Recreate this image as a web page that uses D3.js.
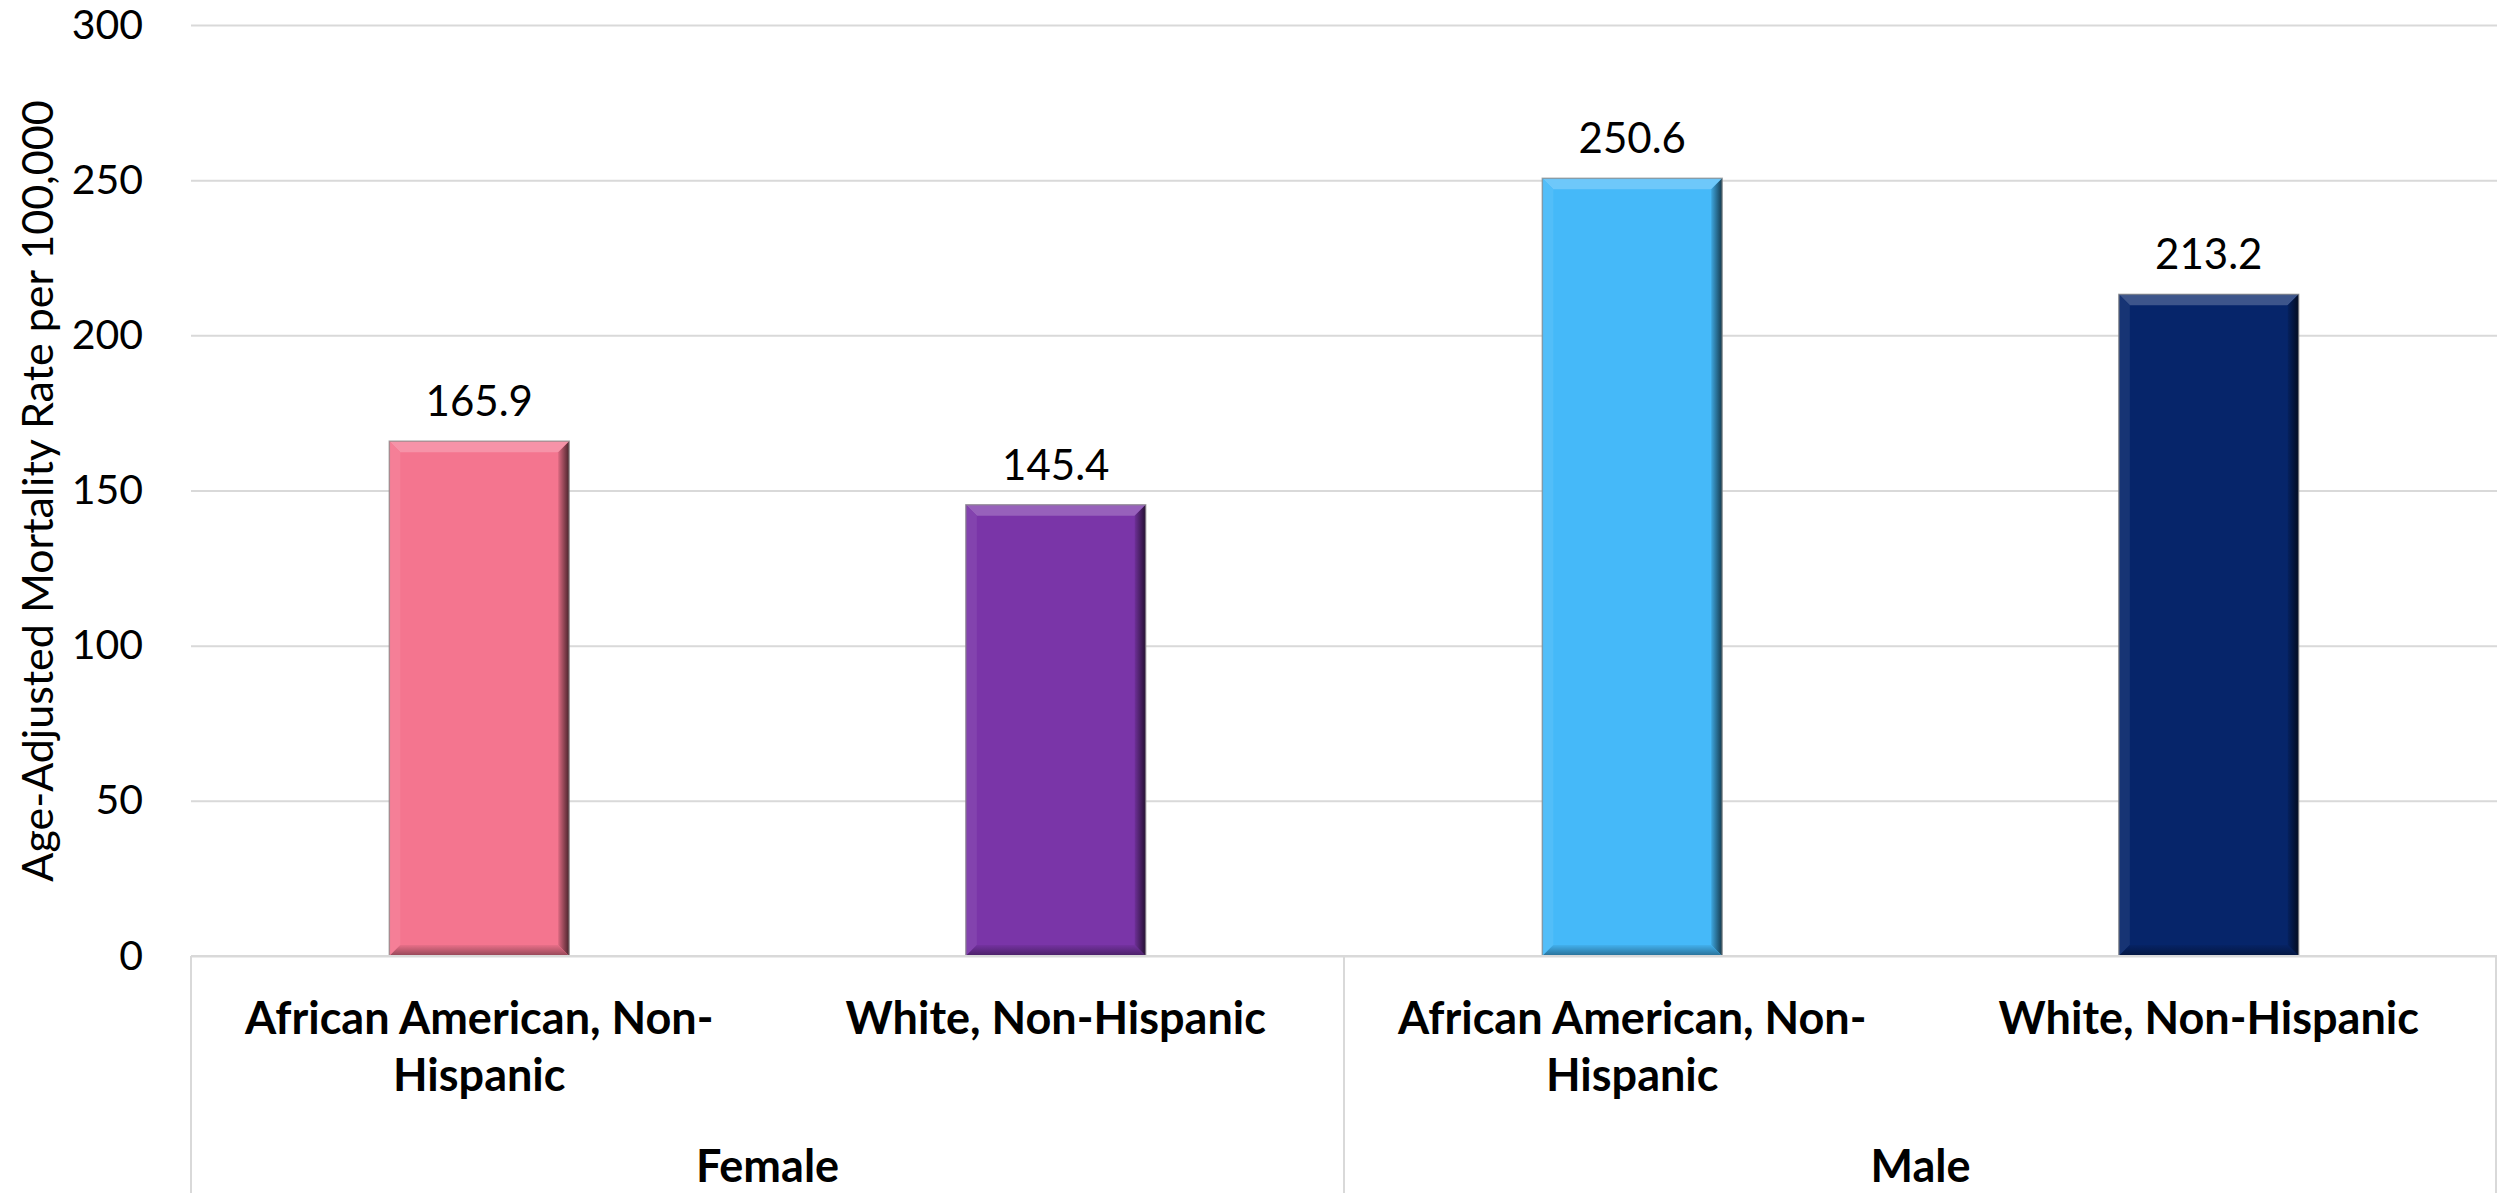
<!DOCTYPE html>
<html><head><meta charset="utf-8">
<script src="https://cdn.jsdelivr.net/npm/d3@7"></script>
<style>
html,body{margin:0;padding:0;background:#fff;}
svg{display:block;}
text{font-family:Lato,"Open Sans",sans-serif;fill:#000;}
</style></head>
<body><svg id="chart" width="2498" height="1193"></svg>
<script>
const groups = ["Female", "Male"];
const categories = ["African American, Non-Hispanic", "White, Non-Hispanic", "African American, Non-Hispanic", "White, Non-Hispanic"];
const categoryGroup = ["Female", "Female", "Male", "Male"];
const values = [165.9, 145.4, 250.6, 213.2];
const valueLabels = ["165.9", "145.4", "250.6", "213.2"];
const barColors = ["#F4758F", "#7A35A8", "#45B9F9", "#06256A"];
const yTicks = [0, 50, 100, 150, 200, 250, 300];
const yTitle = "Age-Adjusted Mortality Rate per 100,000";

const W = 2498, H = 1193;
const m = {left:191, right:1, top:25, bottom:237};
const svg = d3.select("#chart");
const x = d3.scaleBand().domain(d3.range(categories.length)).range([m.left, W - m.right]).paddingInner(0.688).paddingOuter(0.344);
const y = d3.scaleLinear().domain([0, 300]).range([H - m.bottom, m.top]);

// gridlines + tick labels
const yAxis = d3.axisLeft(y).tickValues(yTicks).tickSize(-(W - m.right - m.left)).tickPadding(48).tickFormat(d3.format("d"));
const gy = svg.append("g").attr("transform", `translate(${m.left},0)`).call(yAxis);
gy.select(".domain").remove();
gy.selectAll(".tick line").attr("stroke", "#d9d9d9").attr("stroke-width", 2);
gy.selectAll(".tick text").attr("font-size", 41).attr("font-family", "Lato").attr("fill", "#000");

// category axis separators
const full = x.step();
const sepX = [m.left, (m.left + W - m.right) / 2, W - m.right - 1];
svg.selectAll(".sep").data(sepX).join("line")
  .attr("x1", d => d).attr("x2", d => d).attr("y1", y(0)).attr("y2", H)
  .attr("stroke", "#d9d9d9").attr("stroke-width", 2);

// bars with bevel shading
const defs = svg.append("defs");
const bev = 11;
const bars = svg.selectAll(".bar").data(values).join("g").attr("class", "bar");
bars.each(function(v, i) {
  const g = d3.select(this);
  const x0 = x(i), x1 = x(i) + x.bandwidth(), y0 = y(v), y1 = y(0);
  const c = d3.color(barColors[i]);
  const light = d3.interpolateRgb(barColors[i], "#ffffff");
  const dark = d3.interpolateRgb(barColors[i], "#000000");
  g.append("rect").attr("x", x0).attr("y", y0).attr("width", x1 - x0).attr("height", y1 - y0)
    .attr("fill", barColors[i]);
  // top bevel
  g.append("polygon").attr("points", [[x0,y0],[x1,y0],[x1-bev,y0+bev],[x0+bev,y0+bev]].join(" "))
    .attr("fill", light(0.22));
  // left bevel
  g.append("polygon").attr("points", [[x0,y0],[x0+bev,y0+bev],[x0+bev,y1-bev],[x0,y1]].join(" "))
    .attr("fill", light(0.07));
  // right bevel
  const gid = "rg" + i;
  const lg = defs.append("linearGradient").attr("id", gid).attr("x1", 0).attr("x2", 1).attr("y1", 0).attr("y2", 0);
  lg.append("stop").attr("offset", 0).attr("stop-color", dark(0.1));
  lg.append("stop").attr("offset", 1).attr("stop-color", dark(0.7));
  g.append("polygon").attr("points", [[x1,y0],[x1,y1],[x1-bev,y1-bev],[x1-bev,y0+bev]].join(" "))
    .attr("fill", `url(#${gid})`);
  // bottom bevel
  const bid = "bg" + i;
  const bg = defs.append("linearGradient").attr("id", bid).attr("x1", 0).attr("x2", 0).attr("y1", 0).attr("y2", 1);
  bg.append("stop").attr("offset", 0).attr("stop-color", dark(0.05));
  bg.append("stop").attr("offset", 1).attr("stop-color", dark(0.4));
  g.append("polygon").attr("points", [[x0,y1],[x1,y1],[x1-bev,y1-bev],[x0+bev,y1-bev]].join(" "))
    .attr("fill", `url(#${bid})`);
  g.append("rect").attr("x", x0).attr("y", y0).attr("width", x1 - x0).attr("height", y1 - y0)
    .attr("fill", "none").attr("stroke", "#8a8a8a").attr("stroke-width", 1.5).attr("opacity", 0.7);
});

// value labels
svg.selectAll(".vl").data(values).join("text").attr("class", "vl")
  .attr("x", (d, i) => x(i) + x.bandwidth() / 2).attr("y", d => y(d) - 25)
  .attr("text-anchor", "middle").attr("font-size", 42).text((d, i) => valueLabels[i]);

// baseline
svg.append("line").attr("x1", m.left).attr("x2", W - m.right).attr("y1", y(0)).attr("y2", y(0))
  .attr("stroke", "#d9d9d9").attr("stroke-width", 2);

// category labels with wrapping
const catFont = 45;
const lineH = 57;
categories.forEach((label, i) => {
  const cx = x(i) + x.bandwidth() / 2;
  const t = svg.append("text").attr("x", cx).attr("y", 1034).attr("text-anchor", "middle")
    .attr("font-size", catFont).attr("font-weight", "bold");
  const tokens = label.match(/[^\s-]+-?\s*|\s+/g);
  const maxW = full * 0.86;
  let lines = [], cur = "";
  const probe = svg.append("text").attr("font-size", catFont).attr("font-weight", "bold").attr("visibility", "hidden");
  tokens.forEach(tok => {
    const trial = cur + tok;
    probe.text(trial.trim());
    if (probe.node().getComputedTextLength() > maxW && cur) { lines.push(cur.trim()); cur = tok; }
    else cur = trial;
  });
  lines.push(cur.trim());
  probe.remove();
  lines.forEach((ln, k) => t.append("tspan").attr("x", cx).attr("y", 1034 + k * lineH).text(ln));
});

// group labels
groups.forEach(gname => {
  const idx = d3.range(categories.length).filter(i => categoryGroup[i] === gname);
  const gx0 = x(idx[0]) - x.step() * x.paddingInner() / 2;
  const gx1 = x(idx[idx.length - 1]) + x.bandwidth() + x.step() * x.paddingInner() / 2;
  svg.append("text").attr("x", (gx0 + gx1) / 2).attr("y", 1182).attr("text-anchor", "middle")
    .attr("font-size", catFont).attr("font-weight", "bold").text(gname);
});

// y title
svg.append("text").attr("transform", `translate(53,491) rotate(-90)`)
  .attr("text-anchor", "middle").attr("font-size", 43).text(yTitle);
</script></body></html>
